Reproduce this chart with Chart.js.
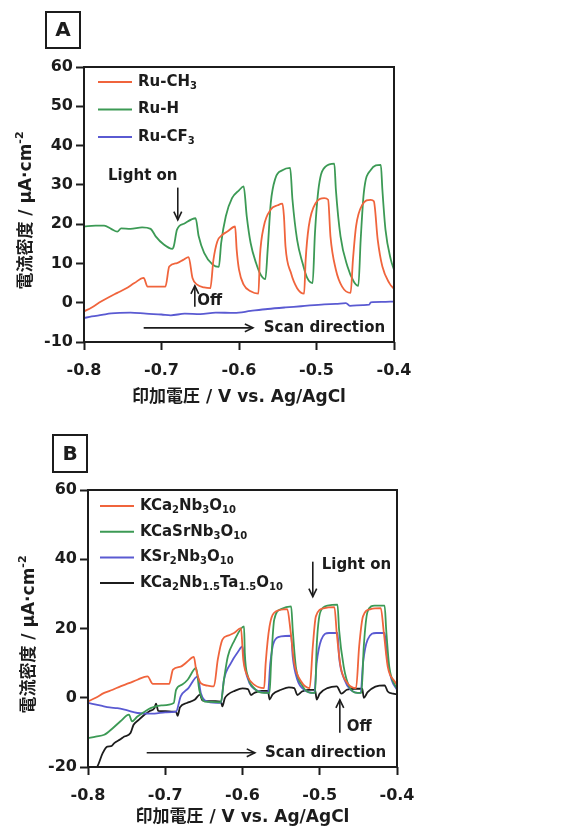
<!DOCTYPE html>
<html>
<head>
<meta charset="utf-8">
<script src="https://cdn.jsdelivr.net/npm/chart.js@4"></script>
<style>
  html, body { margin: 0; padding: 0; background: #fff; }
  #wrap { position: relative; width: 574px; height: 829px; }
  canvas { position: absolute; left: 0; }
  #chartA { top: 0; }
  #chartB { top: 415px; }
</style>
</head>
<body>
<div id="wrap">
  <canvas id="chartA" width="574" height="415"></canvas>
  <canvas id="chartB" width="574" height="414"></canvas>
</div>
<script>
// ---- axis ticks ----
const xTicks = [-0.8, -0.7, -0.6, -0.5, -0.4];
const yTicksA = [-10, 0, 10, 20, 30, 40, 50, 60];
const yTicksB = [-20, 0, 20, 40, 60];

// ---- panel A : Ru complexes (V vs Ag/AgCl, uA/cm2) ----
const ruCH3V = [-0.8, -0.79, -0.778, -0.768, -0.757, -0.746, -0.735, -0.723, -0.718, -0.705, -0.695, -0.69, -0.68, -0.672, -0.665, -0.66, -0.654, -0.645, -0.637, -0.633, -0.628, -0.622, -0.615, -0.605, -0.603, -0.6, -0.594, -0.585, -0.575, -0.573, -0.568, -0.559, -0.55, -0.544, -0.542, -0.54, -0.533, -0.525, -0.516, -0.514, -0.51, -0.501, -0.49, -0.485, -0.482, -0.475, -0.467, -0.456, -0.453, -0.449, -0.441, -0.43, -0.426, -0.421, -0.415, -0.406, -0.4];
const ruCH3J = [-2.2, -1.2, 0.3, 1.4, 2.5, 3.6, 5, 6.3, 4.1, 4.1, 4.1, 9.2, 10.1, 10.9, 11.6, 6.3, 4.6, 3.9, 3.7, 10.9, 15.6, 17.2, 18.1, 19.4, 13.5, 8.4, 4.6, 2.9, 2.3, 11.8, 19.4, 23.7, 24.8, 25.2, 22, 14.3, 7.6, 3.7, 2.3, 10.9, 19.4, 25.4, 26.6, 26.2, 16.9, 8.4, 4.1, 2.5, 10.9, 19.4, 24.9, 26.2, 25.8, 16, 9.2, 5, 3.5];

const ruHV = [-0.8, -0.785, -0.774, -0.765, -0.757, -0.752, -0.74, -0.725, -0.714, -0.7075, -0.697, -0.686, -0.684, -0.68, -0.671, -0.656, -0.652, -0.645, -0.634, -0.626, -0.623, -0.617, -0.609, -0.6, -0.594, -0.59, -0.585, -0.578, -0.572, -0.566, -0.563, -0.559, -0.553, -0.544, -0.534, -0.531, -0.525, -0.518, -0.512, -0.505, -0.502, -0.497, -0.488, -0.477, -0.475, -0.469, -0.46, -0.452, -0.446, -0.443, -0.439, -0.43, -0.417, -0.415, -0.411, -0.404, -0.4];
const ruHJ = [19.4, 19.6, 19.6, 18.8, 18.1, 18.9, 18.8, 19.2, 18.8, 16.9, 14.8, 13.7, 14.5, 18.6, 20.1, 21.5, 16.9, 12.7, 9.7, 9.1, 15.2, 22, 26.6, 28.6, 29.6, 22, 15.2, 10.1, 7.1, 6, 13.5, 25.4, 31.7, 33.7, 34.3, 26.2, 16, 10.1, 6.3, 5, 17.7, 29.6, 34.7, 35.4, 28.8, 16.9, 9.2, 5.4, 4.3, 16, 27.9, 33.8, 35.1, 28.8, 18.6, 10.9, 8.4];

const ruCF3V = [-0.8, -0.79, -0.777, -0.765, -0.74, -0.72, -0.7, -0.688, -0.67, -0.65, -0.63, -0.606, -0.585, -0.563, -0.54, -0.52, -0.49, -0.475, -0.462, -0.457, -0.44, -0.432, -0.43, -0.415, -0.4];
const ruCF3J = [-3.9, -3.5, -3.1, -2.7, -2.5, -2.8, -3, -3.2, -2.8, -2.9, -2.5, -2.6, -2.1, -1.6, -1.2, -0.9, -0.4, -0.3, -0.1, -0.8, -0.6, -0.5, 0.1, 0.2, 0.3];

// ---- panel B : layered niobates ----
const kcnV = [-0.8, -0.79, -0.779, -0.768, -0.758, -0.747, -0.736, -0.723, -0.716, -0.705, -0.695, -0.69, -0.68, -0.672, -0.663, -0.66, -0.654, -0.645, -0.637, -0.632, -0.626, -0.618, -0.611, -0.602, -0.599, -0.593, -0.585, -0.572, -0.57, -0.565, -0.557, -0.542, -0.538, -0.533, -0.524, -0.513, -0.509, -0.505, -0.494, -0.481, -0.478, -0.473, -0.464, -0.453, -0.449, -0.444, -0.434, -0.421, -0.417, -0.412, -0.403, -0.4];
const kcnJ = [-1.1, 0, 1.4, 2.3, 3.3, 4.2, 5.2, 6.2, 4, 4, 4, 8.1, 9, 10.3, 11.8, 8.1, 4.2, 3.5, 3.3, 11, 16.8, 18, 18.7, 20.1, 11, 6, 3.8, 2.8, 10, 20.6, 24.9, 25.6, 19.7, 10, 4.7, 2.8, 14.8, 23.5, 25.9, 26.2, 18.7, 9, 4.2, 2.8, 14.8, 23.5, 25.6, 25.9, 18.7, 9, 4.7, 3.8];

const kcsnV = [-0.8, -0.79, -0.779, -0.768, -0.758, -0.747, -0.743, -0.736, -0.728, -0.719, -0.705, -0.689, -0.686, -0.678, -0.671, -0.66, -0.656, -0.649, -0.64, -0.628, -0.624, -0.619, -0.611, -0.598, -0.597, -0.593, -0.585, -0.572, -0.565, -0.563, -0.559, -0.55, -0.537, -0.535, -0.531, -0.522, -0.511, -0.506, -0.504, -0.499, -0.49, -0.477, -0.475, -0.469, -0.462, -0.451, -0.446, -0.443, -0.438, -0.429, -0.416, -0.414, -0.41, -0.403, -0.4];
const kcsnJ = [-11.7, -11.2, -10.7, -8.8, -6.8, -4.9, -6.8, -5.4, -4.2, -3, -2.2, -1.5, 2.3, 3.8, 5.2, 8.6, 2.3, -1.1, -1.2, -1.3, 5.2, 11.9, 16.3, 20.6, 12.9, 6.2, 2.8, 1.4, 1.4, 10, 22.5, 25.6, 26.4, 19.7, 9, 3.3, 1.4, 1.4, 14.8, 24.9, 26.6, 26.9, 19.7, 9, 3.3, 1.4, 1.4, 14.8, 24.9, 26.6, 26.6, 19.7, 9, 3.8, 2.8];

const ksnV = [-0.8, -0.783, -0.772, -0.762, -0.75, -0.736, -0.714, -0.7, -0.686, -0.68, -0.67, -0.658, -0.654, -0.645, -0.628, -0.624, -0.615, -0.606, -0.6, -0.597, -0.591, -0.583, -0.567, -0.564, -0.559, -0.55, -0.537, -0.535, -0.529, -0.52, -0.507, -0.504, -0.498, -0.488, -0.477, -0.475, -0.468, -0.46, -0.447, -0.444, -0.438, -0.427, -0.416, -0.413, -0.407, -0.4];
const ksnJ = [-1.5, -2.3, -2.8, -3, -3.6, -4.4, -4.6, -4.2, -4, 0.4, 2.8, 6.2, 1.4, -1.1, -1.5, 5.2, 10, 13.2, 14.8, 9, 4.2, 2.3, 1.4, 10, 16.3, 17.7, 17.9, 11.9, 5.2, 2.3, 1.4, 10, 16.8, 18.7, 18.7, 11.9, 5.2, 2.3, 1.4, 10, 16.8, 18.7, 18.7, 11.9, 5.2, 2.3];

const kcntV = [-0.795, -0.788, -0.781, -0.775, -0.77, -0.766, -0.758, -0.753, -0.745, -0.741, -0.735, -0.727, -0.72, -0.714, -0.712, -0.709, -0.7, -0.69, -0.686, -0.684, -0.681, -0.672, -0.662, -0.655, -0.652, -0.645, -0.635, -0.628, -0.626, -0.623, -0.619, -0.61, -0.6, -0.593, -0.589, -0.584, -0.575, -0.567, -0.565, -0.561, -0.55, -0.54, -0.533, -0.529, -0.523, -0.515, -0.506, -0.504, -0.5, -0.49, -0.478, -0.472, -0.465, -0.455, -0.445, -0.443, -0.438, -0.428, -0.416, -0.412, -0.405, -0.4];
const kcntJ = [-21, -19.9, -16, -14.1, -14, -13.1, -12, -11.2, -10.2, -7.8, -6.5, -4.9, -3.8, -3, -1.7, -3.8, -3.9, -4, -4, -5.2, -2.8, -1.5, -0.6, 0.9, -0.8, -1, -1, -1.1, -2.5, -0.2, 0.9, 2, 2.7, 2.5, 0.8, 1.5, 2, 2, -0.5, 1, 2.3, 3, 2.8, 0.8, 1.8, 2.3, 2.3, -0.5, 1.2, 2.8, 3.3, 1.2, 2.3, 2.6, 2.6, 0, 1.6, 3.2, 3.6, 1.8, 1.2, 1];

// ---- look ----
const INK = '#1c1c1c';
const FONT = "'DejaVu Sans', 'Noto Sans CJK JP', sans-serif";
const ORANGE = '#f0643c';
const GREEN = '#3c9a55';
const BLUE = '#5a5ad2';

// text with _sub and ^sup runs
function richParts(str) {
    const parts = [];
    const re = /([_^])([\d.\-]+)/g;
    let last = 0, m;
    while ((m = re.exec(str))) {
        if (m.index > last) parts.push({ t: str.slice(last, m.index), s: 0 });
        parts.push({ t: m[2], s: m[1] === '_' ? 1 : -1 });
        last = re.lastIndex;
    }
    if (last < str.length) parts.push({ t: str.slice(last), s: 0 });
    return parts;
}

function drawRich(ctx, str, x, y, size, weight, align) {
    const parts = richParts(str);
    const font = (p) => `${weight} ${p.s ? Math.round(size * 0.65) : size}px ${FONT}`;
    let total = 0;
    parts.forEach(p => { ctx.font = font(p); p.w = ctx.measureText(p.t).width; total += p.w; });
    let cx = align === 'center' ? x - total / 2 : x;
    ctx.textBaseline = 'middle';
    ctx.textAlign = 'left';
    parts.forEach(p => {
        ctx.font = font(p);
        const dy = p.s === 1 ? size * 0.3 : p.s === -1 ? -size * 0.42 : 0;
        ctx.fillText(p.t, cx, y + dy);
        cx += p.w;
    });
}

function drawArrow(ctx, x1, y1, x2, y2) {
    const ang = Math.atan2(y2 - y1, x2 - x1);
    ctx.beginPath();
    ctx.moveTo(x1, y1);
    ctx.lineTo(x2, y2);
    ctx.stroke();
    ctx.beginPath();
    ctx.moveTo(x2 - 9 * Math.cos(ang - 0.45), y2 - 9 * Math.sin(ang - 0.45));
    ctx.lineTo(x2, y2);
    ctx.lineTo(x2 - 9 * Math.cos(ang + 0.45), y2 - 9 * Math.sin(ang + 0.45));
    ctx.stroke();
}

// frame, panel letter, legend, titles and notes
function makeDecor(cfg) {
    return {
        id: 'decor' + cfg.letter,
        afterDraw(chart) {
            const { ctx, chartArea: a, scales: { x, y } } = chart;
            ctx.save();
            ctx.strokeStyle = INK;
            ctx.fillStyle = INK;

            ctx.lineWidth = 2;
            ctx.strokeRect(a.left, a.top, a.right - a.left, a.bottom - a.top);

            // letter box
            const b = cfg.box;
            ctx.strokeRect(b[0], b[1], b[2], b[3]);
            ctx.font = `bold 20px ${FONT}`;
            ctx.textAlign = 'center';
            ctx.textBaseline = 'middle';
            ctx.fillText(cfg.letter, b[0] + b[2] / 2, b[1] + b[3] / 2 + 1);

            // legend
            chart.data.datasets.forEach((ds, i) => {
                const ly = cfg.legendY + i * cfg.legendGap;
                ctx.strokeStyle = ds.borderColor;
                ctx.lineWidth = 2;
                ctx.beginPath();
                ctx.moveTo(cfg.legendX, ly);
                ctx.lineTo(cfg.legendX + 34, ly);
                ctx.stroke();
                ctx.fillStyle = INK;
                drawRich(ctx, ds.label, cfg.legendX + 40, ly, 15, 'bold', 'left');
            });

            // annotations
            ctx.strokeStyle = INK;
            ctx.lineWidth = 1.6;
            cfg.arrows.forEach(ar => drawArrow(ctx,
                x.getPixelForValue(ar[0]), y.getPixelForValue(ar[1]),
                x.getPixelForValue(ar[2]), y.getPixelForValue(ar[3])));
            ctx.fillStyle = INK;
            cfg.notes.forEach(n => drawRich(ctx, n[2], x.getPixelForValue(n[0]), y.getPixelForValue(n[1]), 15, 'bold', 'left'));

            // axis titles
            drawRich(ctx, '印加電圧 / V vs. Ag/AgCl', (a.left + a.right) / 2, cfg.xTitleY, 17, 'bold', 'center');
            ctx.save();
            ctx.translate(cfg.yTitleX, (a.top + a.bottom) / 2 + 6);
            ctx.rotate(-Math.PI / 2);
            drawRich(ctx, '電流密度 / μA·cm^-2', 0, 0, 17, 'bold', 'center');
            ctx.restore();

            ctx.restore();
        }
    };
}

function pairs(v, j) {
    return v.map((vv, i) => ({ x: vv, y: j[i] }));
}

function makeChart(id, datasets, yTicks, cfg) {
    const canvas = document.getElementById(id);
    return new Chart(canvas, {
        type: 'line',
        data: {
            datasets: datasets.map(d => ({
                label: d.label,
                data: pairs(d.v, d.j),
                borderColor: d.color,
                borderWidth: 1.8,
                pointRadius: 0,
                cubicInterpolationMode: 'monotone',
                fill: false
            }))
        },
        options: {
            responsive: false,
            animation: false,
            devicePixelRatio: 1,
            layout: { padding: { left: 0, top: cfg.top, right: 574 - cfg.right, bottom: 0 } },
            plugins: { legend: { display: false }, tooltip: { enabled: false } },
            scales: {
                x: {
                    type: 'linear',
                    min: xTicks[0],
                    max: xTicks[xTicks.length - 1],
                    afterBuildTicks: sc => { sc.ticks = xTicks.map(v => ({ value: v })); },
                    afterFit: sc => { sc.height = canvas.height - cfg.bottom; },
                    border: { display: false },
                    grid: { drawOnChartArea: false, tickLength: 8, tickWidth: 2, tickColor: INK },
                    ticks: {
                        color: INK,
                        padding: 11,
                        maxRotation: 0,
                        font: { family: FONT, size: 16, weight: 'bold' },
                        callback: v => v.toFixed(1)
                    }
                },
                y: {
                    min: yTicks[0],
                    max: yTicks[yTicks.length - 1],
                    afterBuildTicks: sc => { sc.ticks = yTicks.map(v => ({ value: v })); },
                    afterFit: sc => { sc.width = cfg.left; },
                    border: { display: false },
                    grid: { drawOnChartArea: false, tickLength: 8, tickWidth: 2, tickColor: INK },
                    ticks: {
                        color: INK,
                        padding: 3,
                        font: { family: FONT, size: 16, weight: 'bold' }
                    }
                }
            }
        },
        plugins: [makeDecor(cfg)]
    });
}

makeChart('chartA', [
    { label: 'Ru-CH_3', v: ruCH3V, j: ruCH3J, color: ORANGE },
    { label: 'Ru-H', v: ruHV, j: ruHJ, color: GREEN },
    { label: 'Ru-CF_3', v: ruCF3V, j: ruCF3J, color: BLUE }
], yTicksA, {
    letter: 'A', box: [46, 12, 34, 36],
    left: 84, right: 394, top: 67, bottom: 342,
    legendX: 98, legendY: 82, legendGap: 27.5,
    xTitleY: 398, yTitleX: 27,
    arrows: [[-0.679, 29.3, -0.679, 21.1], [-0.657, -1, -0.657, 4.3], [-0.723, -6.4, -0.582, -6.4]],
    notes: [[-0.769, 32.3, 'Light on'], [-0.654, 0.3, 'Off'], [-0.568, -6.4, 'Scan direction']]
});

makeChart('chartB', [
    { label: 'KCa_2Nb_3O_10', v: kcnV, j: kcnJ, color: ORANGE },
    { label: 'KCaSrNb_3O_10', v: kcsnV, j: kcsnJ, color: GREEN },
    { label: 'KSr_2Nb_3O_10', v: ksnV, j: ksnJ, color: BLUE },
    { label: 'KCa_2Nb_1.5Ta_1.5O_10', v: kcntV, j: kcntJ, color: INK }
], yTicksB, {
    letter: 'B', box: [53, 20, 34, 37],
    left: 88, right: 397, top: 75, bottom: 352,
    legendX: 100, legendY: 91, legendGap: 25.7,
    xTitleY: 403, yTitleX: 30,
    arrows: [[-0.509, 39.3, -0.509, 29.2], [-0.474, -10.1, -0.474, -0.6], [-0.724, -15.9, -0.584, -15.9]],
    notes: [[-0.4975, 38.4, 'Light on'], [-0.465, -8.4, 'Off'], [-0.571, -15.9, 'Scan direction']]
});
</script>
</body>
</html>
